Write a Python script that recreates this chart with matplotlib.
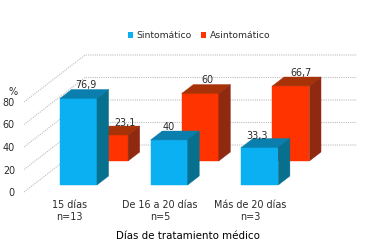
import matplotlib
matplotlib.use("Agg")
import matplotlib.pyplot as plt
from matplotlib.patches import Polygon, Patch

categories = ["15 días\nn=13", "De 16 a 20 días\nn=5", "Más de 20 días\nn=3"]
sintomatico = [76.9, 40, 33.3]
asintomatico = [23.1, 60, 66.7]
sint_labels = ["76,9", "40", "33,3"]
asint_labels = ["23,1", "60", "66,7"]
yticks = [0, 20, 40, 60, 80]

W, H = 378, 249
L, R, B, T = 24, 296, 192, 102
PX_X = (R - L) / 3
PX_Y = (B - T) / 80
DX, DY = 61 / PX_X, 47 / PX_Y  # oblique offset of the full depth, data units
HALF = 18.5 / PX_X

BLUE = ("#0AB0F2", "#0A7FAE", "#08708F")
RED = ("#FF3300", "#A83208", "#8F2A10")
GRID = "#BDBDBD"
TXT = "#2A2A2A"
DOT = (0, (1, 1))
FS = 6.9

fig = plt.figure(figsize=(W / 100, H / 100), dpi=100)
ax = fig.add_axes([L / W, 1 - B / H, (R - L) / W, (B - T) / H])
ax.set_xlim(0, 3)
ax.set_ylim(0, 80)
for s in ax.spines.values():
    s.set_visible(False)
ax.patch.set_alpha(0)


def proj(x, y, t):
    return (x + DX * t, y + DY * t)


def box(xc, h, t0, t1, cols, z):
    xl, xr = xc - HALF, xc + HALF
    front = [proj(xl, 0, t0), proj(xr, 0, t0), proj(xr, h, t0), proj(xl, h, t0)]
    top = [proj(xl, h, t0), proj(xr, h, t0), proj(xr, h, t1), proj(xl, h, t1)]
    side = [proj(xr, 0, t0), proj(xr, 0, t1), proj(xr, h, t1), proj(xr, h, t0)]
    for pts, c in zip((front, top, side), cols):
        ax.add_patch(Polygon(pts, closed=True, fc=c, ec=c, lw=0.3, zorder=z, clip_on=False))


for v in yticks:
    p0, p1 = proj(0, v, 0), proj(0, v, 1)
    p2 = proj(3, v, 1)
    ax.plot([p0[0], p1[0], p2[0]], [p0[1], p1[1], p2[1]], color=GRID, lw=0.8,
            ls=DOT, zorder=1, clip_on=False)

T_BLUE = (0.15, 0.34)
T_RED = (0.66, 0.85)
off_blue = [(1.5, 9), (-6, 8), (-9, 7)]
off_red = [(10, 8), (1, 9), (4, 8)]
for i in range(3):
    xc = i + 0.5
    box(xc, asintomatico[i], *T_RED, RED, 3 + 2 * (2 - i))
    box(xc, sintomatico[i], *T_BLUE, BLUE, 4 + 2 * (2 - i))
    for val, lab, (t0, t1), off in ((sintomatico[i], sint_labels[i], T_BLUE, off_blue[i]),
                                    (asintomatico[i], asint_labels[i], T_RED, off_red[i])):
        ax.annotate(lab, proj(xc, val, (t0 + t1) / 2), xytext=(off[0] * 0.72, off[1] * 0.72),
                    textcoords="offset points", ha="center", va="center",
                    fontsize=FS, color=TXT, zorder=20, annotation_clip=False)

ax.set_yticks(yticks)
ax.set_xticks([0.5, 1.5, 2.5])
ax.set_xticklabels(categories, fontsize=FS, color=TXT, linespacing=1.25)
ax.tick_params(axis="both", length=0, labelsize=FS, labelcolor=TXT)
ax.tick_params(axis="x", pad=5.5)
ax.tick_params(axis="y", pad=6.5)

fig.text(13 / W, 1 - 92 / H, "%", fontsize=FS, color=TXT, ha="center", va="center")
fig.text(188 / W, 1 - 236 / H, "Días de tratamiento médico", fontsize=7.4, color="black",
         ha="center", va="center")

fig.legend(handles=[Patch(fc=BLUE[0], label="Sintomático"), Patch(fc=RED[0], label="Asintomático")],
           loc="center", bbox_to_anchor=(199 / W, 1 - 36 / H), ncol=2, frameon=False,
           fontsize=6.7, labelcolor=TXT, handlelength=0.55, handleheight=0.55,
           handletextpad=0.4, columnspacing=1.0, borderpad=0)

fig.savefig("out.png", dpi=100)
